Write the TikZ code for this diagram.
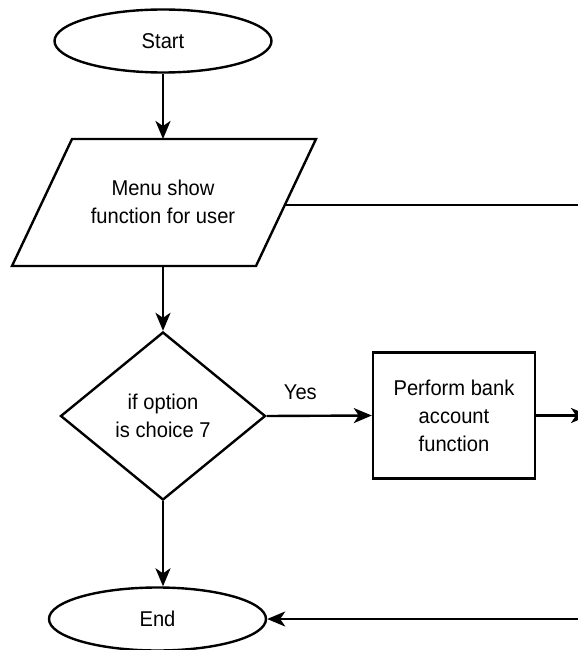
\documentclass[tikz,border=0pt]{standalone}
\usepackage{fontspec}
\setmainfont{Liberation Sans}[FakeStretch=0.94]
\usetikzlibrary{shapes.geometric,arrows.meta}
\begin{document}
\begin{tikzpicture}[x=1bp,y=-1bp,
  txt/.style={font=\fontsize{21.5}{28}\selectfont, align=center, inner sep=0pt},
  base/.style={txt, draw, line width=2.4bp},
  term/.style={base, ellipse, minimum width=217bp, minimum height=63bp},
  decision/.style={base, diamond, minimum width=205bp, minimum height=168bp},
  process/.style={base, rectangle, minimum width=162bp, minimum height=126bp},
  conn/.style={line width=2.4bp, -{Stealth[length=18bp,width=15bp,inset=5bp]}},
  plain/.style={line width=2.4bp},
  lbl/.style={txt}
]
\useasboundingbox (0,0) rectangle (578,650);
\clip (0,0) rectangle (578,650);

% nodes
\node[term] (start) at (163,41) {Start};

\coordinate (mTL) at (72,139);
\coordinate (mTR) at (316,139);
\coordinate (mBR) at (256,266);
\coordinate (mBL) at (12,266);
\draw[line width=2.4bp, line join=miter] (mTL) -- (mTR) -- (mBR) -- (mBL) -- cycle;
\node[txt] (menu) at (163,202) {Menu show\\function for user};
\coordinate (mtop) at (163,139);
\coordinate (mbot) at (163,266);
\coordinate (mright) at (285,205);

\node[decision] (dec) at (163,416) {if option\\is choice 7};
\node[process] (proc) at (454,415.5) {Perform bank\\account\\function};
\node[term] (end) at (157.5,619) {End};

\coordinate (eR1) at (582,205);
\coordinate (eR2) at (589,415.5);
\coordinate (eR3) at (582,619);

% connectors
\draw[conn] (start) -- (mtop);
\draw[conn] (mbot) -- (dec.north);
\draw[conn] (dec.east) -- node[lbl, pos=0.32, yshift=23.5bp] (yes) {Yes} (proc.west);
\draw[conn] (proc.east) -- (eR2);
\draw[plain] (mright) -- (eR1);
\draw[conn] (eR3) -- (end.east);
\draw[conn] (dec.south) -- (dec.south |- end.north);
\end{tikzpicture}
\end{document}
